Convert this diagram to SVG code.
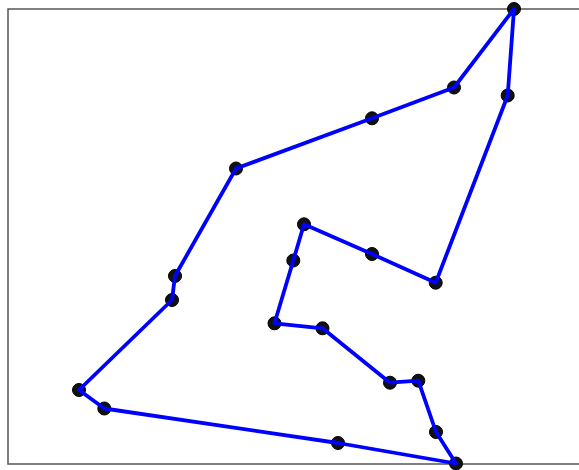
<svg xmlns="http://www.w3.org/2000/svg" width="579" height="470" viewBox="0 0 579 470">
<style>
.frame{fill:none;stroke:#555;stroke-width:1.5}
.pt{fill:#111;stroke:#000;stroke-width:1}
.route{fill:none;stroke:#0000ff;stroke-width:3.8;stroke-linejoin:round;stroke-linecap:round}
</style>
<rect width="579" height="470" fill="#fff"/>
<rect class="frame" x="8" y="9" width="575" height="455"/>
<g id="nodes">
<g id="n1"><circle class="pt" cx="514" cy="9" r="6.5"/></g>
<g id="n2"><circle class="pt" cx="454" cy="87.5" r="6.5"/></g>
<g id="n3"><circle class="pt" cx="372" cy="118.3" r="6.5"/></g>
<g id="n4"><circle class="pt" cx="236" cy="168.5" r="6.5"/></g>
<g id="n5"><circle class="pt" cx="175" cy="276" r="6.5"/></g>
<g id="n6"><circle class="pt" cx="172" cy="300" r="6.5"/></g>
<g id="n7"><circle class="pt" cx="79" cy="390" r="6.5"/></g>
<g id="n8"><circle class="pt" cx="104.3" cy="408.5" r="6.5"/></g>
<g id="n9"><circle class="pt" cx="338" cy="443" r="6.5"/></g>
<g id="n10"><circle class="pt" cx="456" cy="463.5" r="6.5"/></g>
<g id="n11"><circle class="pt" cx="436" cy="432" r="6.5"/></g>
<g id="n12"><circle class="pt" cx="418.3" cy="380.7" r="6.5"/></g>
<g id="n13"><circle class="pt" cx="390" cy="382.7" r="6.5"/></g>
<g id="n14"><circle class="pt" cx="322.5" cy="328.3" r="6.5"/></g>
<g id="n15"><circle class="pt" cx="274.5" cy="323.3" r="6.5"/></g>
<g id="n16"><circle class="pt" cx="293.3" cy="260.5" r="6.5"/></g>
<g id="n17"><circle class="pt" cx="304" cy="224.3" r="6.5"/></g>
<g id="n18"><circle class="pt" cx="372" cy="254" r="6.5"/></g>
<g id="n19"><circle class="pt" cx="435.7" cy="282.7" r="6.5"/></g>
<g id="n20"><circle class="pt" cx="507.7" cy="95.5" r="6.5"/></g>
</g>
<g id="connectors">
<polygon class="route" points="514,9 454,87.5 372,118.3 236,168.5 175,276 172,300 79,390 104.3,408.5 338,443 456,463.5 436,432 418.3,380.7 390,382.7 322.5,328.3 274.5,323.3 293.3,260.5 304,224.3 372,254 435.7,282.7 507.7,95.5"/>
</g>
</svg>
